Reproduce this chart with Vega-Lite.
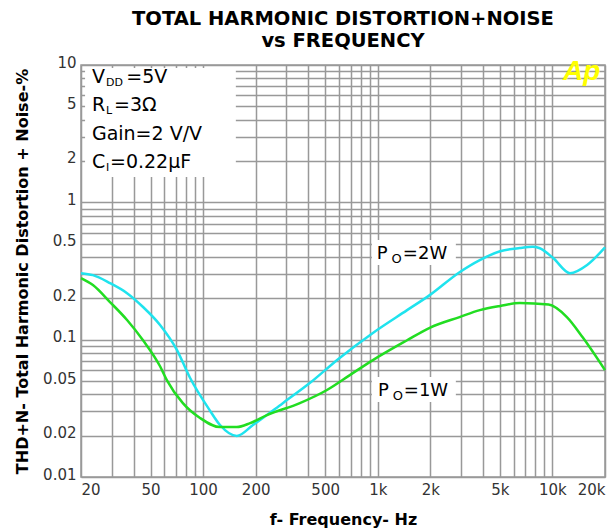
{
  "$schema": "https://vega.github.io/schema/vega-lite/v6.json",
  "width": 524,
  "height": 412,
  "autosize": {"type": "none"},
  "padding": {"left": 81, "top": 65, "right": 10, "bottom": 55},
  "background": "white",
  "view": {"stroke": "#999999", "strokeWidth": 1.5},
  "title": {
    "text": ["TOTAL HARMONIC DISTORTION+NOISE", "vs FREQUENCY"],
    "font": "DejaVu Sans",
    "fontWeight": "bold",
    "fontSize": 19.5,
    "lineHeight": 22,
    "color": "black",
    "anchor": "middle",
    "frame": "group",
    "offset": 4
  },
  "datasets": {
    "curves": [
      {"f": 20, "thd": 0.305, "series": "2W"},
      {"f": 23.4, "thd": 0.295, "series": "2W"},
      {"f": 29.3, "thd": 0.258, "series": "2W"},
      {"f": 36.7, "thd": 0.218, "series": "2W"},
      {"f": 45.3, "thd": 0.173, "series": "2W"},
      {"f": 56.7, "thd": 0.128, "series": "2W"},
      {"f": 70.9, "thd": 0.084, "series": "2W"},
      {"f": 84, "thd": 0.053, "series": "2W"},
      {"f": 109, "thd": 0.0307, "series": "2W"},
      {"f": 125, "thd": 0.0239, "series": "2W"},
      {"f": 156, "thd": 0.0199, "series": "2W"},
      {"f": 193, "thd": 0.0239, "series": "2W"},
      {"f": 286, "thd": 0.0345, "series": "2W"},
      {"f": 408, "thd": 0.0483, "series": "2W"},
      {"f": 600, "thd": 0.073, "series": "2W"},
      {"f": 938, "thd": 0.112, "series": "2W"},
      {"f": 1472, "thd": 0.164, "series": "2W"},
      {"f": 1984, "thd": 0.211, "series": "2W"},
      {"f": 2940, "thd": 0.31, "series": "2W"},
      {"f": 3840, "thd": 0.38, "series": "2W"},
      {"f": 5020, "thd": 0.44, "series": "2W"},
      {"f": 6500, "thd": 0.465, "series": "2W"},
      {"f": 7700, "thd": 0.475, "series": "2W"},
      {"f": 8400, "thd": 0.465, "series": "2W"},
      {"f": 10100, "thd": 0.393, "series": "2W"},
      {"f": 12600, "thd": 0.305, "series": "2W"},
      {"f": 15800, "thd": 0.35, "series": "2W"},
      {"f": 20000, "thd": 0.47, "series": "2W"},
      {"f": 20, "thd": 0.281, "series": "1W"},
      {"f": 23.4, "thd": 0.25, "series": "1W"},
      {"f": 29.3, "thd": 0.188, "series": "1W"},
      {"f": 36.7, "thd": 0.139, "series": "1W"},
      {"f": 45.3, "thd": 0.099, "series": "1W"},
      {"f": 56.7, "thd": 0.064, "series": "1W"},
      {"f": 62, "thd": 0.0508, "series": "1W"},
      {"f": 76.6, "thd": 0.0345, "series": "1W"},
      {"f": 96, "thd": 0.0269, "series": "1W"},
      {"f": 125, "thd": 0.0231, "series": "1W"},
      {"f": 156, "thd": 0.0231, "series": "1W"},
      {"f": 186, "thd": 0.0247, "series": "1W"},
      {"f": 232, "thd": 0.0282, "series": "1W"},
      {"f": 358, "thd": 0.0345, "series": "1W"},
      {"f": 512, "thd": 0.043, "series": "1W"},
      {"f": 692, "thd": 0.0552, "series": "1W"},
      {"f": 938, "thd": 0.071, "series": "1W"},
      {"f": 1472, "thd": 0.099, "series": "1W"},
      {"f": 1984, "thd": 0.122, "series": "1W"},
      {"f": 2940, "thd": 0.146, "series": "1W"},
      {"f": 3840, "thd": 0.164, "series": "1W"},
      {"f": 5020, "thd": 0.176, "series": "1W"},
      {"f": 6500, "thd": 0.185, "series": "1W"},
      {"f": 9500, "thd": 0.18, "series": "1W"},
      {"f": 12100, "thd": 0.146, "series": "1W"},
      {"f": 14900, "thd": 0.104, "series": "1W"},
      {"f": 20000, "thd": 0.06, "series": "1W"}
    ],
    "boxes": [
      {"f1": 21.1, "f2": 154, "v1": 1.53, "v2": 9.51},
      {"f1": 926, "f2": 2800, "v1": 0.349, "v2": 0.531},
      {"f1": 926, "f2": 2800, "v1": 0.0351, "v2": 0.0534}
    ],
    "notes": [
      {"f": 23.1, "v": 7.39, "text": "V", "kind": "main"},
      {"f": 27.8, "v": 7.03, "text": "DD", "kind": "sub"},
      {"f": 36.3, "v": 7.39, "text": "=5V", "kind": "main"},
      {"f": 23.1, "v": 4.62, "text": "R", "kind": "main"},
      {"f": 27.8, "v": 4.40, "text": "L", "kind": "sub"},
      {"f": 30.9, "v": 4.62, "text": "=3Ω", "kind": "main"},
      {"f": 23.1, "v": 2.84, "text": "Gain=2 V/V", "kind": "main"},
      {"f": 23.1, "v": 1.78, "text": "C", "kind": "main"},
      {"f": 27.8, "v": 1.69, "text": "I", "kind": "sub"},
      {"f": 29.3, "v": 1.78, "text": "=0.22μF", "kind": "main"},
      {"f": 988, "v": 0.386, "text": "P", "kind": "label"},
      {"f": 1200, "v": 0.36, "text": "O", "kind": "labelsub"},
      {"f": 1392, "v": 0.386, "text": "=2W", "kind": "label"},
      {"f": 1003, "v": 0.0388, "text": "P", "kind": "label"},
      {"f": 1218, "v": 0.0364, "text": "O", "kind": "labelsub"},
      {"f": 1410, "v": 0.0388, "text": "=1W", "kind": "label"},
      {"f": 14700, "v": 7.78, "text": "Ap", "kind": "logo"}
    ]
  },
  "encoding": {
    "x": {
      "type": "quantitative",
      "scale": {"type": "log", "domain": [20, 20000], "nice": false},
      "axis": {
        "title": "f- Frequency- Hz",
        "values": [20, 30, 40, 50, 60, 70, 80, 90, 100, 200, 300, 400, 500, 600, 700, 800, 900, 1000, 2000, 3000, 4000, 5000, 6000, 7000, 8000, 9000, 10000, 20000],
        "labelExpr": "indexof([20,50,100,200,500,1000,2000,5000,10000,20000], datum.value) >= 0 ? (datum.value >= 1000 ? (datum.value/1000) + 'k' : datum.value + '') : ''",
        "labelFlush": true,
        "labelOverlap": false,
        "grid": true,
        "gridColor": "#999999",
        "gridWidth": 1.5,
        "ticks": false,
        "domain": false,
        "labelFont": "DejaVu Sans",
        "labelFontSize": 15,
        "labelColor": "#333333",
        "labelPadding": 5,
        "titleFont": "DejaVu Sans",
        "titleFontWeight": "bold",
        "titleFontSize": 16,
        "titleColor": "black",
        "titlePadding": 14
      }
    },
    "y": {
      "type": "quantitative",
      "scale": {"type": "log", "domain": [0.01, 10], "nice": false},
      "axis": {
        "title": "THD+N- Total Harmonic Distortion + Noise-%",
        "values": [0.01, 0.02, 0.03, 0.04, 0.05, 0.06, 0.07, 0.08, 0.09, 0.1, 0.2, 0.3, 0.4, 0.5, 0.6, 0.7, 0.8, 0.9, 1, 2, 3, 4, 5, 6, 7, 8, 9, 10],
        "labelExpr": "indexof([0.01,0.02,0.05,0.1,0.2,0.5,1,2,5,10], datum.value) >= 0 ? datum.value + '' : ''",
        "labelOverlap": false,
        "labelFlush": false,
        "grid": true,
        "gridColor": "#999999",
        "gridWidth": 1.5,
        "ticks": false,
        "domain": false,
        "labelFont": "DejaVu Sans",
        "labelFontSize": 15,
        "labelColor": "#333333",
        "labelPadding": 5,
        "labelOffset": -3,
        "titleFont": "DejaVu Sans",
        "titleFontWeight": "bold",
        "titleFontSize": 16,
        "titleColor": "black",
        "titlePadding": 12
      }
    }
  },
  "layer": [
    {
      "data": {"name": "boxes"},
      "mark": {"type": "rect", "fill": "white", "stroke": null},
      "encoding": {
        "x": {"field": "f1", "type": "quantitative"},
        "x2": {"field": "f2"},
        "y": {"field": "v1", "type": "quantitative"},
        "y2": {"field": "v2"}
      }
    },
    {
      "data": {"name": "curves"},
      "mark": {"type": "line", "strokeWidth": 2.5, "interpolate": "monotone"},
      "encoding": {
        "x": {"field": "f", "type": "quantitative"},
        "y": {"field": "thd", "type": "quantitative"},
        "color": {
          "field": "series",
          "type": "nominal",
          "scale": {"domain": ["2W", "1W"], "range": ["#1fe3ee", "#22dd22"]},
          "legend": null
        }
      }
    },
    {
      "data": {"name": "notes"},
      "transform": [{"filter": "datum.kind === 'main'"}],
      "mark": {"type": "text", "align": "left", "baseline": "alphabetic", "font": "DejaVu Sans", "fontSize": 19, "color": "black"},
      "encoding": {
        "x": {"field": "f", "type": "quantitative"},
        "y": {"field": "v", "type": "quantitative"},
        "text": {"field": "text"}
      }
    },
    {
      "data": {"name": "notes"},
      "transform": [{"filter": "datum.kind === 'sub'"}],
      "mark": {"type": "text", "align": "left", "baseline": "alphabetic", "font": "DejaVu Sans", "fontSize": 11, "color": "black"},
      "encoding": {
        "x": {"field": "f", "type": "quantitative"},
        "y": {"field": "v", "type": "quantitative"},
        "text": {"field": "text"}
      }
    },
    {
      "data": {"name": "notes"},
      "transform": [{"filter": "datum.kind === 'label'"}],
      "mark": {"type": "text", "align": "left", "baseline": "alphabetic", "font": "DejaVu Sans", "fontSize": 18, "color": "black"},
      "encoding": {
        "x": {"field": "f", "type": "quantitative"},
        "y": {"field": "v", "type": "quantitative"},
        "text": {"field": "text"}
      }
    },
    {
      "data": {"name": "notes"},
      "transform": [{"filter": "datum.kind === 'labelsub'"}],
      "mark": {"type": "text", "align": "left", "baseline": "alphabetic", "font": "DejaVu Sans", "fontSize": 13, "color": "black"},
      "encoding": {
        "x": {"field": "f", "type": "quantitative"},
        "y": {"field": "v", "type": "quantitative"},
        "text": {"field": "text"}
      }
    },
    {
      "data": {"name": "notes"},
      "transform": [{"filter": "datum.kind === 'logo'"}],
      "mark": {"type": "text", "align": "center", "baseline": "alphabetic", "font": "Liberation Sans", "fontWeight": "bold", "fontStyle": "italic", "fontSize": 28, "color": "#ffff00"},
      "encoding": {
        "x": {"field": "f", "type": "quantitative"},
        "y": {"field": "v", "type": "quantitative"},
        "text": {"field": "text"}
      }
    }
  ]
}
